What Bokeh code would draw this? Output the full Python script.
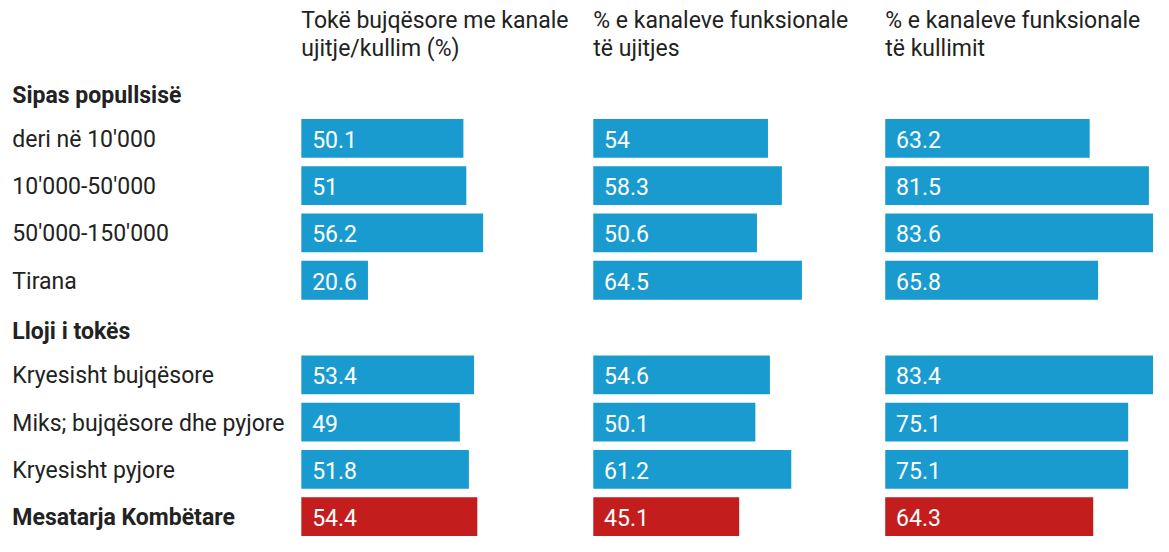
from bokeh.plotting import figure
from bokeh.models import ColumnDataSource, Range1d
from bokeh.core.properties import value
from bokeh.embed import file_html
from bokeh.resources import INLINE

# ---- data ----
headers_line1 = ["Tokë bujqësore me kanale", "% e kanaleve funksionale", "% e kanaleve funksionale"]
headers_line2 = ["ujitje/kullim (%)", "të ujitjes", "të kullimit"]

section_pop = "Sipas popullsisë"
cat_pop = ["deri në 10'000", "10'000-50'000", "50'000-150'000", "Tirana"]
section_land = "Lloji i tokës"
cat_land = ["Kryesisht bujqësore", "Miks; bujqësore dhe pyjore", "Kryesisht pyjore"]
national = "Mesatarja Kombëtare"

col1 = [50.1, 51, 56.2, 20.6, 53.4, 49, 51.8, 54.4]
col2 = [54, 58.3, 50.6, 64.5, 54.6, 50.1, 61.2, 45.1]
col3 = [63.2, 81.5, 83.6, 65.8, 83.4, 75.1, 75.1, 64.3]

BLUE = "#1a9bcf"
RED = "#c41d1d"
TEXT = "#222222"
FONT = "Roboto"
FS = "23px"

# ---- layout (reference pixel geometry, scaled to the figure) ----
W, H = 1153, 536
PX = 3.28                 # reference px per percent unit
COL_GAP = 296 / PX        # column spacing in value units
offsets = [0, COL_GAP, 2 * COL_GAP]

x0 = (0 - 305) / PX
x1 = x0 + 1169 / PX
PITCH = 48.7
ROW0 = 93.3
y_top = (0 - ROW0) / PITCH
y_bot = y_top + 552 / PITCH

rows = [section_pop] + cat_pop + [section_land] + cat_land + [national]
row_idx = {name: i for i, name in enumerate(rows)}
bold_rows = {section_pop, section_land, national}

data_rows = cat_pop + cat_land + [national]

p = figure(width=W, height=H, output_backend="svg", toolbar_location=None,
           x_range=Range1d(x0, x1), y_range=Range1d(y_bot, y_top),
           min_border=0, outline_line_color=None)
p.axis.visible = False
p.grid.visible = False
p.background_fill_color = "white"
p.border_fill_color = "white"

# bars
for ci, col in enumerate([col1, col2, col3]):
    ys = [row_idx[r] for r in data_rows]
    colors = [RED if r == national else BLUE for r in data_rows]
    src = ColumnDataSource(dict(
        y=ys,
        left=[offsets[ci]] * len(col),
        right=[offsets[ci] + v for v in col],
        color=colors,
        label=[f"{v:g}" for v in col],
        lx=[offsets[ci] + 11 / PX] * len(col),
    ))
    p.hbar(y="y", left="left", right="right", height=0.82, fill_color="color",
           line_color=None, source=src)
    p.text(x="lx", y="y", text="label", source=src, text_color="white",
           text_font=value(FONT), text_font_size=FS, text_baseline="middle",
           text_align="left", y_offset=1)

# row labels
lab_x = (12 - 305) / PX
normal = [r for r in rows if r not in bold_rows]
bold = [r for r in rows if r in bold_rows]
p.text(x=[lab_x] * len(normal), y=[row_idx[r] for r in normal], text=normal,
       text_color=TEXT, text_font=value(FONT), text_font_size=FS,
       text_baseline="middle", y_offset=1)
p.text(x=[lab_x] * len(bold), y=[row_idx[r] for r in bold], text=bold,
       text_color=TEXT, text_font=value(FONT), text_font_size=FS,
       text_font_style="bold", text_baseline="middle",
       y_offset=[4 if r != national else 1 for r in bold])

# column headers
p.text(x=offsets, y=[0] * 3, text=headers_line1, text_color=TEXT,
       text_font=value(FONT), text_font_size=FS, text_baseline="middle",
       y_offset=-71)
p.text(x=offsets, y=[0] * 3, text=headers_line2, text_color=TEXT,
       text_font=value(FONT), text_font_size=FS, text_baseline="middle",
       y_offset=-43)

open("out.html", "w").write(file_html(p, INLINE))
